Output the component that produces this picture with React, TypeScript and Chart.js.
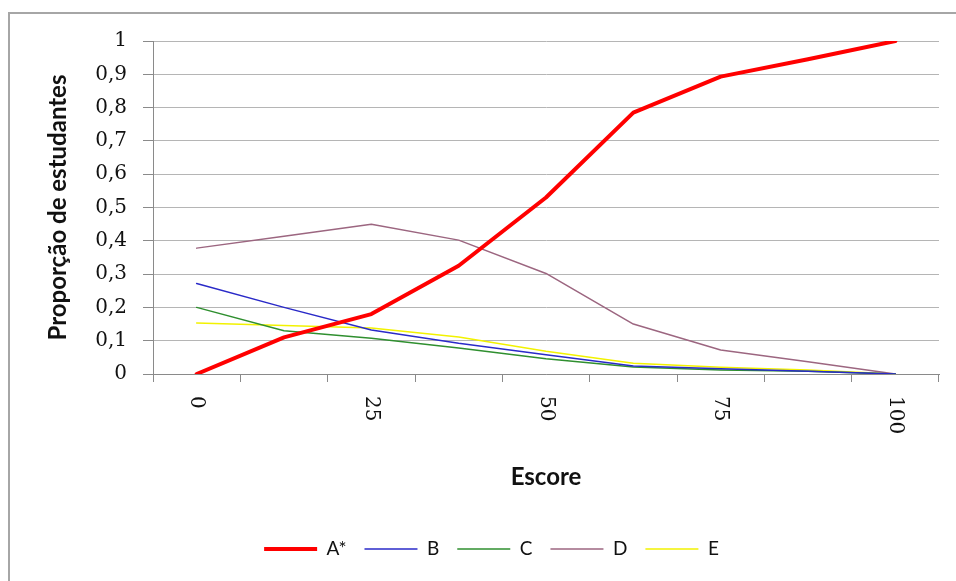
import React, { useEffect, useRef } from 'react';
import { Chart, registerables } from 'chart.js';

Chart.register(...registerables);

// ---- data ----
const categories = [0, 12.5, 25, 37.5, 50, 62.5, 75, 87.5, 100];
const xTickLabels = ['0', '', '25', '', '50', '', '75', '', '100'];
const yTickLabels = ['0', '0,1', '0,2', '0,3', '0,4', '0,5', '0,6', '0,7', '0,8', '0,9', '1'];
const seriesNames = ['A*', 'B', 'C', 'D', 'E'];
const valuesA = [0, 0.11, 0.18, 0.325, 0.53, 0.785, 0.893, 0.945, 1.0];
const valuesB = [0.272, 0.2, 0.132, 0.092, 0.058, 0.024, 0.016, 0.008, 0];
const valuesC = [0.2, 0.13, 0.107, 0.078, 0.046, 0.021, 0.012, 0.008, 0];
const valuesD = [0.378, 0.414, 0.45, 0.402, 0.302, 0.15, 0.072, 0.037, 0];
const valuesE = [0.153, 0.146, 0.138, 0.111, 0.068, 0.032, 0.02, 0.012, 0];
const xTitle = 'Escore';
const yTitle = 'Proporção de estudantes';

const xLabelPlugin = {
  id: 'xRotatedLabels',
  afterDraw(chart: any) {
    const xs = chart.scales.x;
    const ctx = chart.ctx;
    ctx.save();
    ctx.font = '20px "DejaVu Serif"';
    ctx.fillStyle = '#111';
    ctx.textAlign = 'left';
    ctx.textBaseline = 'middle';
    xTickLabels.forEach((lab, i) => {
      if (!lab) return;
      const x = xs.getPixelForValue(i);
      const y = xs.top + 22;
      ctx.save();
      ctx.translate(x, y);
      ctx.rotate(Math.PI / 2);
      ctx.fillText(lab, 0, 0);
      ctx.restore();
    });
    ctx.restore();
  },
};

export default function App() {
  const ref = useRef<HTMLCanvasElement | null>(null);

  useEffect(() => {
    if (!ref.current) return;
    const thin = 1.5;
    const chart = new Chart(ref.current, {
      type: 'line',
      data: {
        labels: categories.map((c) => String(c)),
        datasets: [
          { label: seriesNames[0], data: valuesA, borderColor: '#ff0000', backgroundColor: '#ff0000', borderWidth: 4 },
          { label: seriesNames[1], data: valuesB, borderColor: '#2a2ac8', backgroundColor: '#2a2ac8', borderWidth: thin },
          { label: seriesNames[2], data: valuesC, borderColor: '#2f8f2f', backgroundColor: '#2f8f2f', borderWidth: thin },
          { label: seriesNames[3], data: valuesD, borderColor: '#9c6680', backgroundColor: '#9c6680', borderWidth: thin },
          { label: seriesNames[4], data: valuesE, borderColor: '#f2f200', backgroundColor: '#f2f200', borderWidth: thin },
        ],
      },
      options: {
        animation: false,
        responsive: false,
        devicePixelRatio: 1,
        layout: { padding: { top: 41, right: 17, bottom: 12.5, left: 44 } },
        elements: {
          point: { radius: 0, hoverRadius: 0 },
          line: { tension: 0, borderCapStyle: 'round', borderJoinStyle: 'round' },
        },
        plugins: {
          tooltip: { enabled: false },
          legend: {
            position: 'bottom',
            align: 'center',
            labels: {
              usePointStyle: true,
              pointStyle: 'line',
              pointStyleWidth: 53,
              boxHeight: 19,
              padding: 18,
              color: '#111',
              font: { family: 'Lato', size: 19 },
            },
          },
        },
        scales: {
          x: {
            type: 'category',
            offset: true,
            grid: {
              display: true,
              drawOnChartArea: false,
              drawTicks: true,
              tickLength: 8,
              offset: true,
              color: '#8a8a8a',
              tickColor: '#8a8a8a',
            },
            border: { display: true, color: '#8a8a8a', width: 1 },
            ticks: { display: false, autoSkip: false },
            title: {
              display: true,
              text: xTitle,
              color: '#111',
              font: { family: 'Lato', size: 24, weight: 'bold' },
              padding: { top: 0, bottom: 30.1 },
            },
            afterFit: (scale: any) => {
              scale.height = 147.5;
            },
          },
          y: {
            min: 0,
            max: 1,
            grid: {
              color: '#b5b5b5',
              tickColor: '#8a8a8a',
              tickLength: 10,
              drawTicks: true,
            },
            border: { display: true, color: '#8a8a8a', width: 1 },
            ticks: {
              stepSize: 0.1,
              padding: 16,
              color: '#111',
              font: { family: 'DejaVu Serif', size: 20 },
              callback: (_v: any, i: number) => yTickLabels[i],
            },
            title: {
              display: true,
              text: yTitle,
              color: '#111',
              font: { family: 'Lato', size: 24, weight: 'bold' },
              padding: { top: 0, bottom: 0 },
            },
            afterFit: (scale: any) => {
              scale.width = 109;
            },
          },
        },
      },
      plugins: [xLabelPlugin],
    } as any);
    return () => chart.destroy();
  }, []);

  return (
    <div style={{ position: 'absolute', left: 0, top: 0, width: 956, height: 581, background: '#fff', overflow: 'hidden' }}>
      <div
        style={{
          position: 'absolute',
          left: 8,
          top: 12,
          width: 1000,
          height: 600,
          borderLeft: '2px solid #a6a6a6',
          borderTop: '2px solid #a6a6a6',
        }}
      />
      <canvas ref={ref} width={956} height={581} style={{ position: 'absolute', left: 0, top: 0, width: 956, height: 581 }} />
    </div>
  );
}
